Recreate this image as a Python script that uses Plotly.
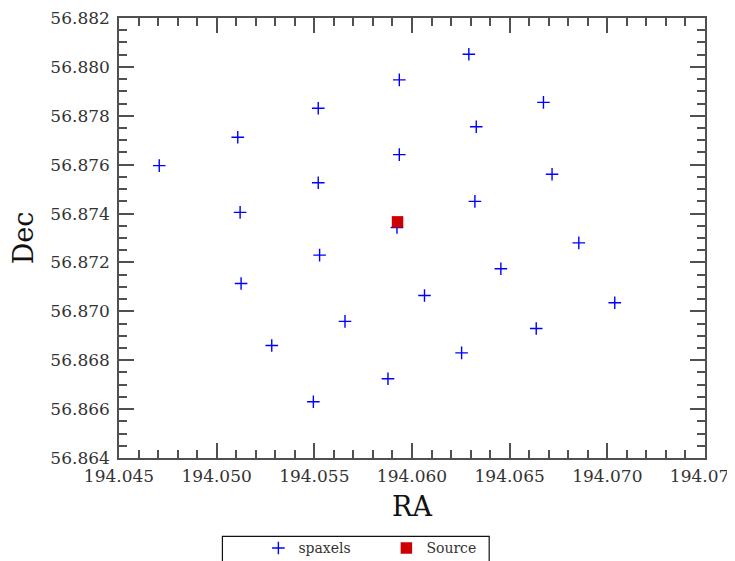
import plotly.graph_objects as go

# spaxel positions (RA, Dec in degrees)
spaxel_ra = [194.04706, 194.05108, 194.05520, 194.05935, 194.06291,
             194.06673, 194.06329, 194.05935, 194.05520, 194.05120,
             194.06717, 194.06322, 194.05923, 194.05527, 194.05125,
             194.06854, 194.06455, 194.06064, 194.05657, 194.05282,
             194.07038, 194.06636, 194.06254, 194.05877, 194.05495]
spaxel_dec = [56.87596, 56.87712, 56.87831, 56.87947, 56.88052,
              56.87855, 56.87755, 56.87641, 56.87526, 56.87405,
              56.87561, 56.87450, 56.87343, 56.87230, 56.87114,
              56.87280, 56.87174, 56.87065, 56.86959, 56.86860,
              56.87035, 56.86930, 56.86830, 56.86724, 56.86630]

source_ra = [194.05926]
source_dec = [56.87366]

x_ticks = [194.045, 194.050, 194.055, 194.060, 194.065, 194.070, 194.075]
y_ticks = [56.864, 56.866, 56.868, 56.870, 56.872, 56.874, 56.876,
           56.878, 56.880, 56.882]

FONT = "DejaVu Serif"
AXCOL = "#505050"
TXTCOL = "#333333"

# page has an 8px body margin: work in figure coordinates
OFF = 8
FW, FH = 735 - OFF, 561 - OFF
L, R, T, B = 118.5 - OFF, 705.0 - OFF, 17.7 - OFF, 458.5 - OFF
PW, PH = R - L, B - T


def px_x(page_x):
    return (page_x - OFF - L) / PW


def px_y(page_y):
    return (B - (page_y - OFF)) / PH


fig = go.Figure()
fig.add_trace(go.Scatter(
    x=spaxel_ra, y=spaxel_dec, mode="markers", name="spaxels",
    marker=dict(symbol="cross-thin", size=9,
                line=dict(color="#0000ff", width=1.4)),
))
fig.add_trace(go.Scatter(
    x=source_ra, y=source_dec, mode="markers", name="Source",
    marker=dict(symbol="square", size=11.5, color="#cc0000",
                line=dict(width=0)),
))

axis_common = dict(
    showgrid=False, zeroline=False, showline=True, linecolor=AXCOL,
    linewidth=1.5, mirror="allticks", ticks="inside", ticklen=15,
    tickwidth=1.5, tickcolor=AXCOL, automargin=False,
    ticklabeloverflow="allow",
    tickfont=dict(family=FONT, size=17, color=TXTCOL),
)

eps = 1e-9
fig.update_xaxes(
    range=[x_ticks[0] - eps, x_ticks[-1] + eps], tickvals=x_ticks,
    ticktext=[f"{v:.3f}" for v in x_ticks],
    ticklabelstandoff=2,
    title=dict(text="RA", font=dict(family=FONT, size=27, color="#111111"),
               standoff=12),
    minor=dict(ticks="inside", ticklen=8, tickwidth=1.5, tickcolor=AXCOL,
               dtick=0.001, showgrid=False),
    **axis_common,
)
fig.update_yaxes(
    range=[y_ticks[0] - eps, y_ticks[-1] + eps], tickvals=y_ticks,
    ticktext=[f"{v:.3f}" for v in y_ticks],
    ticklabelstandoff=4,
    title=dict(text="Dec", font=dict(family=FONT, size=27, color="#111111"),
               standoff=9),
    minor=dict(ticks="inside", ticklen=8, tickwidth=1.5, tickcolor=AXCOL,
               dtick=0.0005, showgrid=False),
    **axis_common,
)

fig.update_layout(
    width=FW, height=FH,
    margin=dict(l=L, r=FW - R, t=T, b=FH - B, autoexpand=False),
    plot_bgcolor="white", paper_bgcolor="white",
    showlegend=True,
    legend=dict(
        orientation="h", x=px_x(258), xanchor="left",
        y=px_y(549), yanchor="middle",
        font=dict(family=FONT, size=14, color=TXTCOL),
        bgcolor="rgba(0,0,0,0)", borderwidth=0,
        entrywidth=83, entrywidthmode="pixels",
    ),
    shapes=[dict(
        type="rect", xref="paper", yref="paper",
        x0=px_x(222), x1=px_x(489),
        y0=px_y(575), y1=px_y(537),
        line=dict(color="#111111", width=1.2), fillcolor="rgba(0,0,0,0)",
        layer="above",
    )],
)

fig.write_html("out.html")
